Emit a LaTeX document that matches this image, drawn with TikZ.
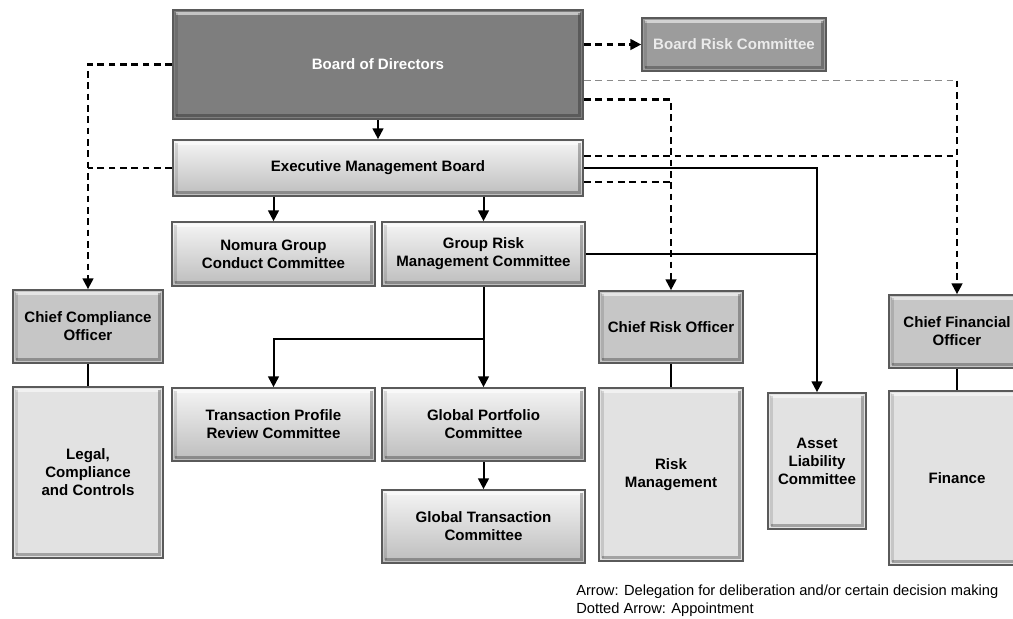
\documentclass[tikz,border=0pt]{standalone}
\usepackage{fontspec}
\setmainfont{Liberation Sans}
\usetikzlibrary{arrows.meta,calc}
\definecolor{bodfill}{HTML}{7E7E7E}
\definecolor{brcfill}{HTML}{9C9C9C}
\definecolor{offfill}{HTML}{C6C6C6}
\definecolor{tallfill}{HTML}{E2E2E2}
\definecolor{edge}{HTML}{5A5A5A}
\definecolor{lightdash}{HTML}{8A8A8A}
\tikzset{
  base/.style={draw=edge, line width=1.3pt, inner sep=0pt, align=center,
    font=\fontsize{11.3}{13.5}\selectfont\bfseries,
    path picture={
      \draw[white, opacity=0.55, line width=2.2pt]
        ([shift={(2.5pt,-2.5pt)}]path picture bounding box.north west) --
        ([shift={(-2.5pt,-2.5pt)}]path picture bounding box.north east);
      \draw[black, opacity=0.28, line width=2.2pt]
        ([shift={(-2.5pt,-2.5pt)}]path picture bounding box.north east) --
        ([shift={(-2.5pt,2.5pt)}]path picture bounding box.south east) --
        ([shift={(2.5pt,2.5pt)}]path picture bounding box.south west);
      \draw[black, opacity=0.12, line width=2.2pt]
        ([shift={(2.5pt,-2.5pt)}]path picture bounding box.north west) --
        ([shift={(2.5pt,2.5pt)}]path picture bounding box.south west);
    }},
  darkbox/.style={base, fill=bodfill, text=white},
  brcbox/.style={base, fill=brcfill, text=white!92!black},
  lightbox/.style={base, top color=white!96!black, bottom color=white!74!black},
  offbox/.style={base, fill=offfill},
  tallbox/.style={base, fill=tallfill},
  arr/.style={line width=1.5pt, -{Triangle[length=8pt,width=8pt]}},
  plain/.style={line width=1.5pt},
  dsh/.style={line width=1.6pt, dash pattern=on 5pt off 3.5pt},
  dsharr/.style={dsh, -{Triangle[length=8pt,width=8pt]}},
  lightdsh/.style={line width=1.1pt, draw=lightdash, dash pattern=on 5pt off 3.5pt},
}
% style, name, x1, y1, x2, y2 (pixels), text
\newcommand{\orgbox}[7]{%
  \node[#1, minimum width={(#5-#3)*0.75pt}, minimum height={(#6-#4)*0.75pt}]
    (#2) at ({(#3+#5)/2},{(#4+#6)/2}) {#7};}
\begin{document}
\begin{tikzpicture}[x=0.75pt,y=-0.75pt]
\useasboundingbox (0,0) rectangle (1013,618);
\clip (0,0) rectangle (1013,618);
\fill[white] (0,0) rectangle (1013,618);

% boxes
\orgbox{darkbox}{bod}{173}{10}{583}{119}{Board of Directors}
\orgbox{brcbox}{brc}{642}{18}{826}{71}{Board Risk Committee}
\orgbox{lightbox}{emb}{173}{140}{583}{196}{Executive Management Board}
\orgbox{lightbox}{ngcc}{172}{222}{375}{286}{Nomura Group\\Conduct Committee}
\orgbox{lightbox}{grmc}{382}{222}{585}{286}{Group Risk\\Management Committee}
\orgbox{offbox}{cco}{13}{290}{163}{363}{Chief Compliance\\Officer}
\orgbox{tallbox}{lcc}{13}{387}{163}{558}{Legal,\\Compliance\\and Controls}
\orgbox{lightbox}{tprc}{172}{388}{375}{461}{Transaction Profile\\Review Committee}
\orgbox{lightbox}{gpc}{382}{388}{585}{461}{Global Portfolio\\Committee}
\orgbox{lightbox}{gtc}{382}{490}{585}{563}{Global Transaction\\Committee}
\orgbox{offbox}{cro}{599}{291}{743}{363}{Chief Risk Officer}
\orgbox{tallbox}{rm}{599}{388}{743}{561}{Risk\\Management}
\orgbox{tallbox}{alc}{768}{393}{866}{529}{Asset\\Liability\\Committee}
\orgbox{offbox}{cfo}{889}{295}{1025}{368}{Chief Financial\\Officer}
\orgbox{tallbox}{fin}{889}{391}{1025}{565}{Finance}

% solid delegation arrows
\draw[arr] (bod.south) -- (emb.north);
\draw[arr] (ngcc.north |- emb.south) -- (ngcc.north);
\draw[arr] (grmc.north |- emb.south) -- (grmc.north);
\draw[arr] (grmc.south) -- (gpc.north);
\coordinate (split) at ($(grmc.south)+(0,52)$);
\draw[arr] (split) -| (tprc.north);
\draw[arr] (gpc.south) -- (gtc.north);
\draw[arr] (emb.east) -| (alc.north);
\draw[plain] (grmc.east) -- (grmc.east -| alc.north);
\draw[plain] (cco.south) -- (lcc.north);
\draw[plain] (cro.south) -- (rm.north);
\draw[plain] (cfo.south) -- (fin.north);

% dashed appointment arrows
\draw[dsharr] (bod.west) -| (cco.north);
\draw[dsh] (emb.west) -- (emb.west -| cco.north);
\draw[dsharr] (bod.east |- brc.west) -- (brc.west);
\coordinate (bodA) at ($(bod.east)+(0,16)$);
\coordinate (bodB) at ($(bod.east)+(0,35)$);
\draw[lightdsh] (bodA) -- (bodA -| cfo.north);
\draw[dsharr] (bodA -| cfo.north) -- (cfo.north);
\draw[dsharr] (bodB) -| (cro.north);
\coordinate (embA) at ($(emb.east)+(0,-12)$);
\coordinate (embB) at ($(emb.east)+(0,14)$);
\draw[dsh] (embA) -- (embA -| cfo.north);
\draw[dsh] (embB) -- (embB -| cro.north);

% legend
\node[anchor=west, font=\fontsize{11}{13.5}\selectfont, align=left, inner sep=0pt] (legend) at (576,601)
 {Arrow: Delegation for deliberation and/or certain decision making\\Dotted Arrow: Appointment};
\end{tikzpicture}
\end{document}
